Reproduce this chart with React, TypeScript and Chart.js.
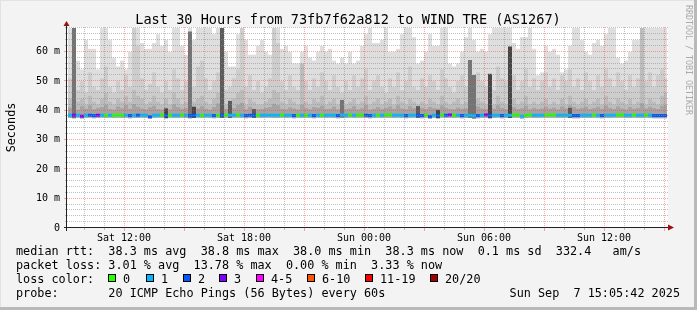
import { useEffect, useRef } from 'react';
import { Chart, registerables } from 'chart.js';

Chart.register(...registerables);

// ---- time axis (hours since Sat 00:00) ----
const X_MIN = 9.15; // Sat 09:09
const X_MAX = 39.15; // Sun 15:09
const FIRST_COL = 9.3; // centre of first 12-minute column
const COL_STEP = 0.2;
const xTickHours = [12, 18, 24, 30, 36];
const xTickLabels = ['Sat 12:00', 'Sat 18:00', 'Sun 00:00', 'Sun 06:00', 'Sun 12:00'];
const yTickValues = [0, 10, 20, 30, 40, 50, 60];
const yTickLabels = ['0', '10 m', '20 m', '30 m', '40 m', '50 m', '60 m'];
const Y_MAX = 68.1;

// ---- smoke layers (ms), one value per 12-minute column ----
const top1 = [
  68, 69, 57, 54, 64, 61, 61, 54, 69, 69,
  64, 58, 55, 57, 54, 60, 69, 69, 63, 61,
  61, 63, 66, 62, 64, 60, 69, 69, 62, 59,
  69, 64, 69, 69, 69, 69, 66, 69, 69, 60,
  55, 55, 66, 69, 64, 59, 59, 62, 64, 60,
  59, 69, 69, 61, 62, 60, 56, 56, 60, 62,
  58, 57, 60, 62, 60, 61, 57, 56, 58, 56,
  60, 56, 57, 62, 66, 69, 63, 63, 64, 69,
  60, 60, 61, 66, 69, 69, 65, 56, 57, 60,
  66, 62, 62, 69, 69, 56, 55, 56, 60, 65,
  69, 64, 60, 61, 60, 66, 69, 69, 69, 69,
  69, 63, 61, 65, 65, 69, 61, 52, 53, 62,
  60, 61, 59, 53, 54, 62, 69, 69, 64, 60,
  59, 63, 64, 62, 66, 69, 69, 58, 56, 57,
  60, 64, 64, 69, 69, 69, 69, 69, 69, 69,
];
const top2 = [
  51, 53, 47, 50, 46, 53, 48, 47, 51, 55,
  48, 46, 50, 47, 52, 48, 69, 62, 51, 47,
  49, 53, 48, 46, 50, 47, 54, 51, 47, 50,
  52, 48, 55, 57, 51, 47, 50, 53, 52, 47,
  48, 51, 54, 69, 48, 52, 47, 50, 46, 48,
  51, 69, 63, 50, 47, 52, 48, 47, 52, 50,
  47, 51, 48, 53, 50, 47, 52, 48, 46, 50,
  47, 52, 48, 51, 54, 47, 50, 52, 48, 46,
  51, 48, 53, 47, 50, 55, 48, 47, 51, 48,
  52, 50, 47, 54, 51, 48, 46, 50, 52, 48,
  51, 47, 53, 50, 48, 52, 47, 55, 51, 50,
  48, 52, 47, 50, 54, 48, 51, 47, 50, 53,
  48, 51, 47, 52, 50, 54, 48, 51, 47, 53,
  50, 47, 52, 48, 54, 51, 48, 53, 50, 47,
  52, 48, 51, 56, 50, 53, 48, 52, 54, 51,
];
const top3 = [
  44, 46, 43, 44, 42, 45, 43, 42, 44, 46,
  43, 42, 44, 43, 45, 43, 47, 45, 44, 42,
  43, 45, 43, 42, 44, 42, 46, 44, 42, 43,
  45, 43, 44, 45, 43, 42, 44, 46, 44, 42,
  43, 44, 46, 47, 42, 44, 43, 42, 42, 43,
  44, 47, 46, 43, 42, 44, 43, 42, 56, 43,
  42, 44, 43, 45, 42, 43, 44, 42, 43, 42,
  43, 44, 42, 43, 45, 42, 43, 44, 42, 43,
  44, 42, 45, 43, 42, 44, 43, 42, 43, 42,
  44, 43, 42, 45, 43, 42, 43, 44, 42, 43,
  43, 42, 44, 43, 42, 44, 42, 45, 43, 42,
  43, 44, 42, 43, 45, 42, 43, 42, 43, 44,
  42, 43, 42, 44, 42, 45, 43, 42, 43, 44,
  42, 43, 44, 42, 45, 43, 42, 44, 43, 42,
  44, 42, 43, 69, 42, 44, 43, 42, 45, 46,
];
const top4 = [
  41.0, 42.5, 40.2, 41.5, 40.6, 41.8, 40.4, 40.9, 41.2, 42.0,
  40.5, 40.3, 41.4, 40.8, 41.9, 40.6, 42.2, 41.3, 40.7, 40.4,
  41.1, 41.6, 40.5, 40.3, 41.0, 40.4, 42.1, 41.2, 40.6, 40.9,
  41.8, 41.0, 40.7, 41.5, 40.6, 40.3, 41.2, 42.4, 41.1, 40.5,
  41.0, 40.8, 41.9, 42.6, 40.4, 41.3, 40.6, 40.4, 40.5, 40.9,
  41.2, 42.3, 41.8, 40.6, 40.4, 41.1, 40.7, 40.3, 42.0, 40.8,
  40.4, 41.2, 40.9, 41.6, 40.5, 40.6, 41.3, 40.4, 41.8, 40.5,
  40.7, 41.5, 40.4, 40.8, 41.9, 40.3, 40.6, 41.2, 40.5, 40.9,
  41.4, 40.6, 41.8, 40.7, 40.4, 41.5, 40.8, 41.3, 40.9, 40.5,
  41.2, 40.8, 40.6, 41.7, 40.9, 40.5, 40.4, 41.0, 40.6, 40.8,
  41.9, 41.0, 41.4, 40.7, 40.5, 41.6, 40.6, 41.8, 40.9, 40.4,
  41.5, 41.1, 40.5, 40.8, 41.6, 40.4, 40.9, 40.5, 40.7, 41.3,
  40.6, 41.0, 40.4, 41.4, 40.7, 41.8, 41.2, 40.6, 40.9, 41.3,
  40.5, 40.8, 41.3, 40.6, 41.7, 40.9, 40.5, 41.4, 40.7, 40.4,
  41.2, 40.6, 40.9, 42.5, 40.7, 41.3, 40.8, 40.5, 41.6, 42.0,
];
const minVals = [
  37.5, 37.4, 37.6, 37.3, 37.5, 37.6, 37.4, 37.5, 37.6, 37.5,
  37.6, 37.5, 37.6, 37.5, 37.6, 37.4, 37.5, 37.5, 37.6, 37.5,
  37.2, 37.5, 37.6, 37.6, 37.4, 37.6, 37.5, 37.5, 37.6, 37.5,
  37.4, 37.5, 37.6, 37.5, 37.6, 37.5, 37.4, 37.6, 37.5, 37.6,
  37.5, 37.6, 37.6, 37.5, 37.4, 37.5, 37.5, 37.6, 37.5, 37.6,
  37.6, 37.5, 37.5, 37.6, 37.5, 37.6, 37.4, 37.6, 37.5, 37.6,
  37.5, 37.4, 37.6, 37.6, 37.5, 37.6, 37.5, 37.4, 37.6, 37.5,
  37.6, 37.5, 37.6, 37.6, 37.5, 37.4, 37.5, 37.6, 37.5, 37.6,
  37.6, 37.5, 37.6, 37.5, 37.4, 37.5, 37.6, 37.5, 37.4, 37.6,
  37.2, 37.5, 37.4, 37.6, 37.5, 37.6, 37.5, 37.6, 37.4, 37.5,
  37.5, 37.3, 37.4, 37.5, 37.6, 37.4, 37.5, 37.6, 37.4, 37.5,
  37.5, 37.6, 37.6, 37.3, 37.5, 37.6, 37.5, 37.5, 37.6, 37.6,
  37.6, 37.6, 37.5, 37.5, 37.6, 37.5, 37.4, 37.4, 37.5, 37.5,
  37.5, 37.6, 37.5, 37.4, 37.5, 37.5, 37.6, 37.6, 37.6, 37.5,
  37.5, 37.6, 37.5, 37.5, 37.6, 37.5, 37.4, 37.4, 37.4, 37.4,
];
const medianVals = [
  38.4, 38.4, 38.4, 38.1, 38.4, 38.4, 38.3, 38.4, 38.4, 38.4,
  38.4, 38.4, 38.5, 38.4, 38.4, 38.3, 38.4, 38.4, 38.4, 38.4,
  37.9, 38.4, 38.4, 38.5, 38.3, 38.4, 38.4, 38.4, 38.5, 38.4,
  38.3, 38.4, 38.4, 38.4, 38.4, 38.4, 38.3, 38.4, 38.4, 38.5,
  38.4, 38.4, 38.5, 38.4, 38.3, 38.4, 38.4, 38.4, 38.4, 38.4,
  38.4, 38.4, 38.4, 38.5, 38.4, 38.4, 38.3, 38.4, 38.4, 38.4,
  38.4, 38.3, 38.4, 38.4, 38.4, 38.4, 38.4, 38.3, 38.5, 38.4,
  38.5, 38.4, 38.4, 38.5, 38.4, 38.3, 38.4, 38.4, 38.4, 38.5,
  38.5, 38.4, 38.4, 38.4, 38.3, 38.4, 38.4, 38.4, 38.3, 38.5,
  38.0, 38.4, 38.3, 38.5, 38.4, 38.5, 38.4, 38.4, 38.3, 38.4,
  38.4, 38.2, 38.3, 38.4, 38.5, 38.3, 38.4, 38.4, 38.3, 38.4,
  38.4, 38.5, 38.5, 38.1, 38.4, 38.5, 38.4, 38.4, 38.4, 38.5,
  38.5, 38.5, 38.4, 38.4, 38.4, 38.4, 38.3, 38.3, 38.4, 38.4,
  38.4, 38.5, 38.4, 38.3, 38.4, 38.4, 38.4, 38.5, 38.5, 38.4,
  38.4, 38.5, 38.4, 38.4, 38.5, 38.4, 38.3, 38.3, 38.3, 38.3,
];
// lost pings per column (0,1,2,3 of 20)
const lossCounts = [
  1, 3, 1, 3, 1, 2, 2, 3, 1, 0,
  1, 0, 0, 0, 1, 2, 1, 2, 1, 1,
  2, 1, 1, 0, 2, 0, 1, 1, 0, 1,
  2, 2, 1, 0, 1, 1, 2, 0, 2, 0,
  1, 1, 0, 1, 2, 2, 2, 0, 1, 1,
  1, 1, 1, 0, 1, 1, 2, 0, 1, 0,
  1, 2, 1, 0, 1, 1, 1, 2, 1, 1,
  0, 1, 0, 0, 2, 2, 1, 0, 1, 0,
  0, 1, 1, 1, 2, 1, 1, 2, 2, 0,
  2, 1, 2, 0, 2, 3, 0, 1, 2, 1,
  1, 1, 2, 1, 3, 2, 1, 1, 2, 1,
  1, 0, 0, 1, 0, 0, 1, 1, 1, 0,
  0, 0, 1, 1, 1, 1, 2, 2, 1, 1,
  1, 0, 1, 2, 1, 1, 1, 0, 0, 1,
  1, 0, 1, 1, 0, 1, 2, 2, 2, 2,
];
// dark columns (column index, top in ms, shade level)
const spikeCols = [1, 24, 30, 31, 38, 40, 46, 68, 87, 92, 100, 101, 105, 110, 125];
const spikeTops = [69, 40.7, 66.9, 41.3, 69, 43.3, 40.5, 43.6, 41.5, 40.2, 57.2, 52.1, 52.5, 61.8, 40.9];
const spikeLevels = [0, 2, 0, 2, 1, 1, 1, 0, 1, 2, 0, 0, 2, 2, 1];

// ---- legend ----
const lossLegendLabels = ['0', '1', '2', '3', '4-5', '6-10', '11-19', '20/20'];
const lossLegendColors = ['#26ff00', '#00b8ff', '#0059ff', '#7e00ff', '#ff00ff', '#ff5500', '#ff0000', '#a10000'];
const medianStats = ['38.3 ms avg', '38.8 ms max', '38.0 ms min', '38.3 ms now', '0.1 ms sd', '332.4   am/s'];
const lossStats = ['3.01 % avg', '13.78 % max', '0.00 % min', '3.33 % now'];
const probeText = '20 ICMP Echo Pings (56 Bytes) every 60s';
const dateText = 'Sun Sep  7 15:05:42 2025';

const TITLE = 'Last 30 Hours from 73fb7f62a812 to WIND TRE (AS1267)';
const MONO = '"DejaVu Sans Mono", monospace';

const SMOKE = ['#dedede', '#cdcdcd', '#bcbcbc', '#a4a4a4'];
const SPIKE_SHADES = ['#747474', '#5c5c5c', '#464646'];

const times = top1.map((_, i) => FIRST_COL + COL_STEP * i);

const rrdPlugin = {
  id: 'rrd',
  beforeDraw(chart: any) {
    const { ctx, chartArea: a } = chart;
    ctx.save();
    ctx.fillStyle = '#f3f3f3';
    ctx.fillRect(0, 0, 697, 310);
    ctx.fillStyle = '#ffffff';
    ctx.fillRect(a.left, a.top - 1, a.right - a.left + 1, a.bottom - a.top + 1);
    // frame
    ctx.fillStyle = '#e2e2e2';
    ctx.fillRect(0, 0, 697, 1);
    ctx.fillRect(0, 0, 1, 310);
    ctx.fillStyle = '#b9b9b9';
    ctx.fillRect(0, 307, 697, 3);
    ctx.fillRect(694, 0, 3, 310);
    ctx.restore();
  },
  afterDatasetsDraw(chart: any) {
    const { ctx, chartArea: a, scales } = chart;
    const xs = scales.x;
    const ys = scales.y;
    ctx.save();
    ctx.lineWidth = 1;
    const minor = 'rgba(140,140,140,0.55)';
    const major = 'rgba(255,60,60,0.45)';
    // horizontal grid
    for (let v = 2; v <= Y_MAX; v += 2) {
      const py = Math.round(ys.getPixelForValue(v)) - 0.5;
      const isMajor = v % 10 === 0;
      ctx.strokeStyle = isMajor ? major : minor;
      ctx.setLineDash([1, 1]);
      ctx.beginPath();
      ctx.moveTo(a.left, py);
      ctx.lineTo(a.right + 1, py);
      ctx.stroke();
      ctx.setLineDash([]);
      ctx.beginPath();
      ctx.moveTo(a.left - (isMajor ? 3 : 2), py);
      ctx.lineTo(a.left, py);
      ctx.stroke();
    }
    // vertical grid
    for (let h = Math.ceil(X_MIN); h <= X_MAX; h += 1) {
      const px = Math.round(xs.getPixelForValue(h)) + 0.5;
      const isMajor = h % 3 === 0;
      ctx.strokeStyle = isMajor ? major : minor;
      ctx.setLineDash([1, 1]);
      ctx.beginPath();
      ctx.moveTo(px, a.top - 1);
      ctx.lineTo(px, a.bottom);
      ctx.stroke();
      ctx.setLineDash([]);
      ctx.beginPath();
      ctx.moveTo(px, a.bottom);
      ctx.lineTo(px, a.bottom + (isMajor ? 3 : 2));
      ctx.stroke();
    }
    // axes
    ctx.strokeStyle = '#222222';
    ctx.beginPath();
    ctx.moveTo(a.left - 0.5, a.bottom + 3);
    ctx.lineTo(a.left - 0.5, a.top - 4);
    ctx.moveTo(a.left - 3, a.bottom - 0.5);
    ctx.lineTo(a.right + 4, a.bottom - 0.5);
    ctx.stroke();
    ctx.fillStyle = '#9a1010';
    ctx.beginPath();
    ctx.moveTo(a.left - 3.5, a.top - 2);
    ctx.lineTo(a.left + 2.5, a.top - 2);
    ctx.lineTo(a.left - 0.5, a.top - 7);
    ctx.closePath();
    ctx.fill();
    ctx.beginPath();
    ctx.moveTo(a.right + 1, a.bottom - 3.5);
    ctx.lineTo(a.right + 1, a.bottom + 2.5);
    ctx.lineTo(a.right + 7, a.bottom - 0.5);
    ctx.closePath();
    ctx.fill();
    // tick labels, placed through the chart's own scales
    ctx.fillStyle = '#000000';
    ctx.font = `10px ${MONO}`;
    ctx.textAlign = 'right';
    ctx.textBaseline = 'middle';
    yTickValues.forEach((v, i) => ctx.fillText(yTickLabels[i], a.left - 7, ys.getPixelForValue(v)));
    ctx.textAlign = 'center';
    ctx.textBaseline = 'alphabetic';
    xTickHours.forEach((h, i) => ctx.fillText(xTickLabels[i], xs.getPixelForValue(h), a.bottom + 13));
    ctx.restore();
  },
  afterDraw(chart: any) {
    const { ctx } = chart;
    ctx.save();
    ctx.fillStyle = '#000000';
    ctx.textBaseline = 'alphabetic';
    // title
    ctx.font = `13.6px ${MONO}`;
    ctx.textAlign = 'center';
    ctx.fillText(TITLE, 348, 24);
    // y unit
    ctx.font = `11.8px ${MONO}`;
    ctx.save();
    ctx.translate(11.5, 127.5);
    ctx.rotate(-Math.PI / 2);
    ctx.textAlign = 'center';
    ctx.textBaseline = 'middle';
    ctx.fillText('Seconds', 0, 0);
    ctx.restore();
    // credit
    ctx.save();
    ctx.translate(688, 5);
    ctx.rotate(Math.PI / 2);
    ctx.font = `8.3px ${MONO}`;
    ctx.fillStyle = '#aaaaaa';
    ctx.textAlign = 'left';
    ctx.textBaseline = 'middle';
    ctx.fillText('RRDTOOL / TOBI OETIKER', 0, 0);
    ctx.restore();
    // legend
    ctx.font = `11.8px ${MONO}`;
    ctx.textAlign = 'left';
    const r1 = 255, r2 = 269, r3 = 283, r4 = 297;
    ctx.fillText('median rtt:  ' + medianStats.join('  '), 16, r1);
    ctx.fillText('packet loss: ' + lossStats.join('  '), 16, r2);
    ctx.fillText('loss color:', 16, r3);
    const sX = [108, 146, 183, 219, 256, 307, 365, 430];
    lossLegendLabels.forEach((lab, i) => {
      ctx.fillStyle = lossLegendColors[i];
      ctx.fillRect(sX[i] + 0.5, 274.5, 7, 7);
      ctx.strokeStyle = '#000000';
      ctx.lineWidth = 1;
      ctx.strokeRect(sX[i] + 0.5, 274.5, 7, 7);
      ctx.fillStyle = '#000000';
      ctx.fillText(lab, sX[i] + 15, r3);
    });
    ctx.fillText('probe:       ' + probeText, 16, r4);
    ctx.textAlign = 'right';
    ctx.fillText(dateText, 680, r4);
    ctx.restore();
  },
};

function smokeLayer(tops: number[], color: string, order: number) {
  return {
    type: 'bar',
    data: tops.map((v, i) => ({ x: times[i], y: [minVals[i], v] })),
    backgroundColor: color,
    order,
  };
}

export default function App() {
  const ref = useRef<HTMLCanvasElement | null>(null);
  useEffect(() => {
    if (!ref.current) return;
    const datasets: any[] = [
      {
        type: 'bar',
        data: medianVals.map((m, i) => ({ x: times[i], y: [m - 0.5, m + 0.5] })),
        backgroundColor: lossCounts.map((c) => lossLegendColors[c]),
        order: 0,
      },
      {
        type: 'bar',
        data: spikeCols.map((c, k) => ({ x: times[c], y: [minVals[c], spikeTops[k]] })),
        backgroundColor: spikeLevels.map((l) => SPIKE_SHADES[l]),
        order: 1,
      },
      smokeLayer(top4, SMOKE[3], 2),
      smokeLayer(top3, SMOKE[2], 3),
      smokeLayer(top2, SMOKE[1], 4),
      smokeLayer(top1, SMOKE[0], 5),
    ];
    const chart = new Chart(ref.current, {
      type: 'bar',
      data: { datasets },
      options: {
        animation: false,
        responsive: false,
        devicePixelRatio: 1,
        events: [],
        layout: { padding: { top: 28, right: 30, bottom: 82, left: 67 } },
        datasets: {
          bar: {
            grouped: false,
            barThickness: 4,
            inflateAmount: 0,
            borderWidth: 0,
            borderSkipped: false,
          } as any,
        },
        plugins: { legend: { display: false }, tooltip: { enabled: false } },
        scales: {
          x: { type: 'linear', min: X_MIN, max: X_MAX, offset: false, display: false },
          y: { type: 'linear', min: 0, max: Y_MAX, display: false },
        },
      } as any,
      plugins: [rrdPlugin],
    });
    return () => chart.destroy();
  }, []);
  return (
    <div style={{ position: 'fixed', left: 0, top: 0, width: 697, height: 310 }}>
      <canvas ref={ref} width={697} height={310} style={{ display: 'block', width: 697, height: 310 }} />
    </div>
  );
}
